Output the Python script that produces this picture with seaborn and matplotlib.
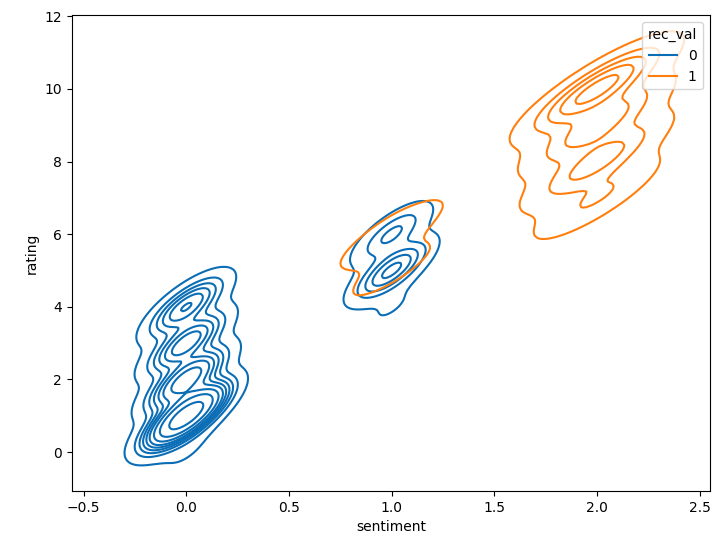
import numpy as np
import pandas as pd
import matplotlib
matplotlib.use('Agg')
import matplotlib.pyplot as plt
import seaborn as sns

# counts of reviews per (sentiment, rating) cell, split by rec_val
rec0_sentiment = [0, 0, 0, 0, 0, 1, 1, 1]
rec0_rating = [0, 1, 2, 3, 4, 4, 5, 6]
rec0_count = [10, 600, 240, 170, 140, 10, 115, 60]

rec1_sentiment = [0, 0, 0, 0, 0, 0, 1, 1, 1, 2, 2, 2, 2]
rec1_rating = [0, 1, 2, 3, 4, 5, 5, 6, 7, 7, 8, 9, 10]
rec1_count = [8, 8, 8, 8, 8, 8, 30, 45, 8, 70, 140, 150, 250]

palette = {0: '#0a6db5', 1: '#ff7f0e'}


def build_frame():
    parts = []
    for s, r, c, v in [(rec0_sentiment, rec0_rating, rec0_count, 0),
                       (rec1_sentiment, rec1_rating, rec1_count, 1)]:
        parts.append(pd.DataFrame({
            'sentiment': np.repeat(s, c).astype(float),
            'rating': np.repeat(r, c).astype(float),
            'rec_val': v,
        }))
    return pd.concat(parts, ignore_index=True)


df = build_frame()

fig, ax = plt.subplots(figsize=(7.12, 5.43), dpi=100)
fig.subplots_adjust(left=0.101, right=0.997, bottom=0.096, top=0.972)
sns.kdeplot(data=df, x='sentiment', y='rating', hue='rec_val',
            palette=palette, ax=ax)
ax.set_xlim(-0.557, 2.55)
ax.set_ylim(-1.07, 12.03)
fig.savefig('out.png')
